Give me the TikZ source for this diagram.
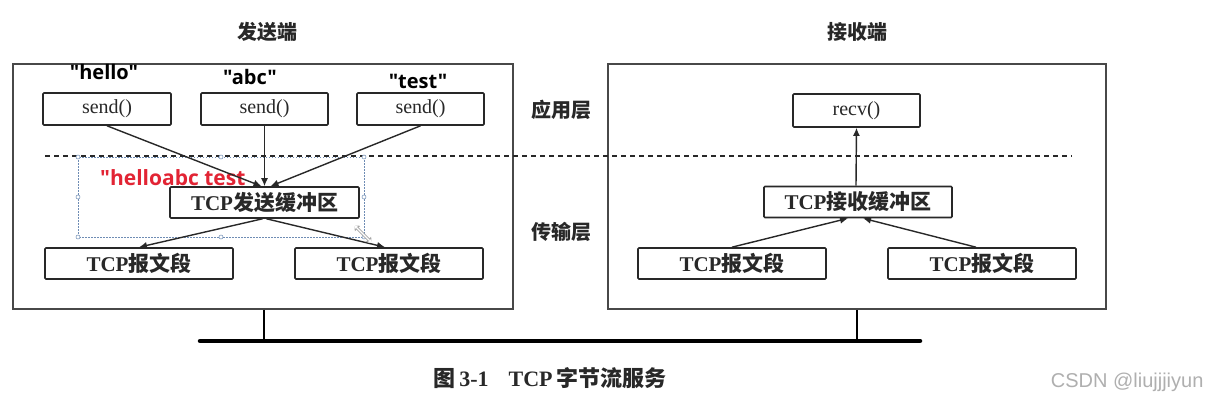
\documentclass[tikz,border=0pt]{standalone}
\usepackage{fontspec}
\setmainfont{Liberation Serif}
\newfontfamily\cjk{Noto Sans CJK SC}
\newfontfamily\lblfont{Open Sans}
\newfontfamily\wmfont{Liberation Sans}
\usetikzlibrary{arrows.meta,calc}
\definecolor{ln}{RGB}{40,40,40}
\definecolor{redtxt}{RGB}{226,36,52}
\definecolor{selblue}{RGB}{110,140,180}
\definecolor{wm}{RGB}{175,175,175}
\newcommand\fsz[1]{\fontsize{#1}{#1}\selectfont}
\tikzset{
  box/.style={draw=ln, line width=1.6pt, rounded corners=1pt, inner sep=0pt, text=ln},
  outer/.style={draw=ln!85, line width=1.6pt, inner sep=0pt},
  arr/.style={draw=ln, line width=1.4pt, -{Latex[length=8pt,width=7pt]}},
  ttl/.style={text=ln, font=\cjk\bfseries\fsz{20}},
  quot/.style={font=\lblfont\bfseries\fsz{20}, text=black},
  sel/.style={draw=selblue, line width=0.6pt, dash pattern=on 1.5pt off 1.5pt},
  hdl/.style={draw=selblue, fill=white, line width=0.5pt, circle, inner sep=0pt, minimum size=4pt},
  sendtxt/.style={font=\fsz{20}},
  tcptxt/.style={font=\fsz{21}},
}
\begin{document}
\begin{tikzpicture}[x=1pt,y=-1pt]
\useasboundingbox[fill=white] (0,0) rectangle (1210,401);

% titles
\node[ttl] (t1) at (267,32) {发送端};
\node[ttl] (t2) at (857,32) {接收端};

% outer boxes
\node[outer, minimum width=500pt, minimum height=245pt] (L) at (263,186.5) {};
\node[outer, minimum width=498pt, minimum height=245pt] (R) at (857,186.5) {};

% dashed layer line
\coordinate (d1) at (45,156);
\coordinate (d2) at (1072,156);
\draw[ln, line width=1.4pt, dash pattern=on 5pt off 4pt] (d1) -- (d2);

% layer labels
\node[ttl] (app) at (561,110) {应用层};
\node[ttl] (tra) at (561,232) {传输层};

% send boxes
\node[box, minimum width=128pt, minimum height=32pt, sendtxt] (s1) at (107,109) {send()};
\node[box, minimum width=127pt, minimum height=32pt, sendtxt] (s2) at (264.5,109) {send()};
\node[box, minimum width=127pt, minimum height=32pt, sendtxt] (s3) at (420.5,109) {send()};

\node[quot] (q1) at (104,72) {"hello"};
\node[quot] (q2) at (250,77) {"abc"};
\node[quot] (q3) at (418,81) {"test"};

% selection rectangle (screenshot artifact)
\coordinate (c1) at (78,157);
\coordinate (c2) at (364,237);
\draw[sel] (c1) rectangle (c2);
\foreach \p in {(78,157),(221,157),(364,157),(78,197),(364,197),(78,237),(221,237),(364,237)}
  \node[hdl] at \p {};

% send buffer
\node[box, minimum width=189pt, minimum height=31pt, tcptxt] (sb) at (264.5,202.5) {\bfseries TCP{\cjk\bfseries 发送缓冲区}};
\node[anchor=base west, font=\lblfont\bfseries\fsz{21}, text=redtxt, inner sep=0pt] (red) at (100,185) {"helloabc test};

% segments left
\node[box, minimum width=188pt, minimum height=31pt, tcptxt] (l1) at (139,263.5) {\bfseries TCP{\cjk\bfseries 报文段}};
\node[box, minimum width=188pt, minimum height=31pt, tcptxt] (l2) at (389,263.5) {\bfseries TCP{\cjk\bfseries 报文段}};

% arrows sender
\draw[arr] (s1.south) -- ($(sb.north)+(-3,0)$);
\draw[arr] (s2.south) -- (sb.north);
\draw[arr] (s3.south) -- ($(sb.north)+(6,0)$);
\draw[arr] ($(sb.south)+(-2,0)$) -- (l1.north);
\draw[arr] ($(sb.south)+(2,0)$) -- ($(l2.north)+(-4,0)$);

% cursor artifact
\coordinate (k1) at (354,225);
\coordinate (k2) at (372,243);
\draw[gray!70, line width=3pt, {Triangle[length=5pt,width=7pt]}-{Triangle[length=5pt,width=7pt]}] (k1) -- (k2);
\draw[white, line width=1.4pt, {Triangle[length=3.5pt,width=4.5pt]}-{Triangle[length=3.5pt,width=4.5pt]}] (k1) -- (k2);

% receiver
\node[box, minimum width=127pt, minimum height=33pt, sendtxt] (rv) at (856.5,110.5) {recv()};
\node[box, minimum width=188pt, minimum height=31pt, tcptxt] (rb) at (858,202) {\bfseries TCP{\cjk\bfseries 接收缓冲区}};
\node[box, minimum width=188pt, minimum height=31pt, tcptxt] (r1) at (732,263.5) {\bfseries TCP{\cjk\bfseries 报文段}};
\node[box, minimum width=188pt, minimum height=31pt, tcptxt] (r2) at (982,263.5) {\bfseries TCP{\cjk\bfseries 报文段}};

\draw[arr] ($(rb.north)+(-2,0)$) -- (rv.south);
\draw[arr] (r1.north) -- ($(rb.south)+(-10,0)$);
\draw[arr] ($(r2.north)+(-6,0)$) -- ($(rb.south)+(5,0)$);

% bus
\coordinate (b1) at (200,341);
\coordinate (b2) at (920,341);
\draw[black, line width=4.5pt, line cap=round] (b1) -- (b2);
\draw[black, line width=2.8pt] (L.south -| 264,0) -- (264,341);
\draw[black, line width=2.8pt] (R.south -| 857,0) -- (857,341);

% caption
\node[font=\fsz{22}, text=ln] (cap) at (550,378) {{\cjk\bfseries 图}\,\textbf{3-1}\hspace{20pt}\textbf{TCP}\,{\cjk\bfseries 字节流服务}};
\node[anchor=east, font=\wmfont\fsz{20}, text=wm] (wmk) at (1207,382) {CSDN @liujjjiyun};
\end{tikzpicture}
\end{document}
